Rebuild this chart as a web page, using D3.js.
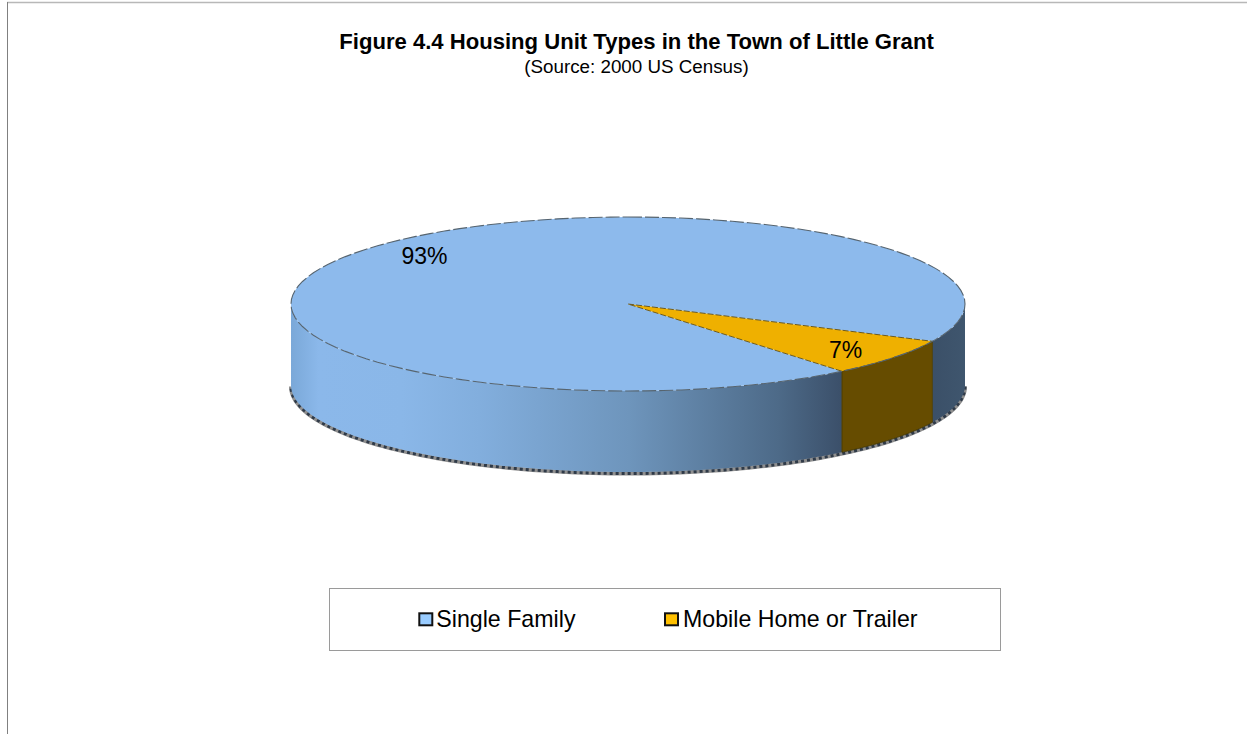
<!DOCTYPE html>
<html><head><meta charset="utf-8">
<script src="https://cdnjs.cloudflare.com/ajax/libs/d3/7.8.5/d3.min.js"></script>
<style>html,body{margin:0;background:#fff}svg{display:block}text{font-family:"Liberation Sans",Arial,sans-serif;fill:#000}</style>
</head><body><svg id="c" width="1247" height="734"></svg>
<script>
const categories=["Single Family","Mobile Home or Trailer"];
const values=[93,7];
const labels=["93%","7%"];
const topColors=["#8dbaec","#efb000"];
const swatchColors=["#99ccff","#ffc000"];
const chartTitle="Figure 4.4 Housing Unit Types in the Town of Little Grant";
const subtitle="(Source: 2000 US Census)";

const svg=d3.select("#c");
const cx=628,cy=304,rx=337,ry=87,depth=81;
const deg=Math.PI/180, start=140.6*deg;
const pie=d3.pie().sort(null).startAngle(start).endAngle(start+2*Math.PI)(values);

// frame
svg.append("line").attr("x1",7).attr("x2",1247).attr("y1",2.5).attr("y2",2.5).attr("stroke","#b8b8b8").attr("stroke-width",1.4);
svg.append("line").attr("x1",7.5).attr("x2",7.5).attr("y1",2).attr("y2",734).attr("stroke","#808080");

const defs=svg.append("defs");
const g=defs.append("linearGradient").attr("id","wall").attr("gradientUnits","userSpaceOnUse")
 .attr("x1",cx-rx).attr("x2",845).attr("y1",0).attr("y2",0);
[[0,"#7aa8d8"],[.05,"#8bb8ea"],[.2,"#8ab7e8"],[.34,"#82aedd"],[.61,"#6e95bc"],[.88,"#4d6a88"],[1,"#3a4e68"]]
 .forEach(([o,c])=>g.append("stop").attr("offset",o).attr("stop-color",c));
const g2=defs.append("linearGradient").attr("id","wallR").attr("gradientUnits","userSpaceOnUse")
 .attr("x1",935).attr("x2",cx+rx).attr("y1",0).attr("y2",0);
g2.append("stop").attr("offset",0).attr("stop-color","#3b5068");
g2.append("stop").attr("offset",1).attr("stop-color","#3f566e");

// D3 angle a: x=sin a, y=-cos a
const px=a=>cx+rx*Math.sin(a), py=a=>cy-ry*Math.cos(a);
const wallArea=d3.area().x(px).y0(py).y1(a=>py(a)+depth);
const samples=(a,b)=>d3.range(0,121).map(i=>a+(b-a)*i/120);

// the mobile-home slice is the one that wraps past a full turn
const mob0=pie[1].startAngle-2*Math.PI, mob1=pie[1].endAngle-2*Math.PI;
const rightEdge=90*deg, leftEdge=270*deg;

// shadow underneath the wall
const shadowLine=d3.line().x(px).y(a=>py(a)+depth+1.5)(samples(rightEdge,leftEdge));
svg.append("path").attr("d",shadowLine).attr("fill","none").attr("stroke","#8f8f8f").attr("stroke-width",4);
svg.append("path").attr("d",shadowLine).attr("fill","none").attr("stroke","#2f3a48").attr("stroke-width",3).attr("stroke-dasharray","3 3");

// walls
svg.append("path").attr("d",wallArea(samples(rightEdge,mob0))).attr("fill","url(#wallR)");
svg.append("path").attr("d",wallArea(samples(mob1,leftEdge))).attr("fill","url(#wall)");
svg.append("path").attr("d",wallArea(samples(mob0,mob1))).attr("fill","#664c00")
 .attr("stroke","#3e3300").attr("stroke-width",.8);

// top face
const arc=d3.arc().innerRadius(0).outerRadius(rx);
const topFace=svg.append("g").attr("transform",`translate(${cx},${cy}) scale(1,${ry/rx})`);
topFace.selectAll("path").data(pie).join("path").attr("d",arc).attr("fill",(d,i)=>topColors[i]);
topFace.append("path").datum(pie[1]).attr("d",arc).attr("fill","none").attr("stroke","#6b5a20")
 .attr("stroke-width",1).attr("stroke-dasharray","6 2").attr("vector-effect","non-scaling-stroke");
svg.append("path").attr("d",d3.line().x(px).y(py)(samples(0,2*Math.PI)))
 .attr("fill","none").attr("stroke","#56646f").attr("stroke-width",1.1).attr("stroke-dasharray","14 3");

// data labels
const labelPos=[[424.5,264],[845.5,358]];
svg.selectAll("text.lab").data(labels).join("text").attr("class","lab")
 .attr("x",(d,i)=>labelPos[i][0]).attr("y",(d,i)=>labelPos[i][1])
 .attr("text-anchor","middle").attr("font-size",23).text(d=>d);

// titles
svg.append("text").attr("x",636.5).attr("y",48.5).attr("text-anchor","middle")
 .attr("font-size",22.1).attr("font-weight","bold").text(chartTitle);
svg.append("text").attr("x",636.5).attr("y",72.5).attr("text-anchor","middle")
 .attr("font-size",18.8).text(subtitle);

// legend
svg.append("rect").attr("x",329.5).attr("y",588.5).attr("width",671).attr("height",62)
 .attr("fill","#fff").attr("stroke","#9a9a9a");
const legX=d3.scaleOrdinal().domain(categories).range([419.3,665]);
const leg=svg.selectAll("g.leg").data(categories).join("g").attr("class","leg")
 .attr("transform",d=>`translate(${legX(d)},613.3)`);
leg.append("rect").attr("width",13).attr("height",12)
 .attr("fill",(d,i)=>swatchColors[i]).attr("stroke","#111").attr("stroke-width",2);
leg.append("text").attr("x",(d,i)=>i?18:17).attr("y",13.4).attr("font-size",23.2).text(d=>d);
</script></body></html>
